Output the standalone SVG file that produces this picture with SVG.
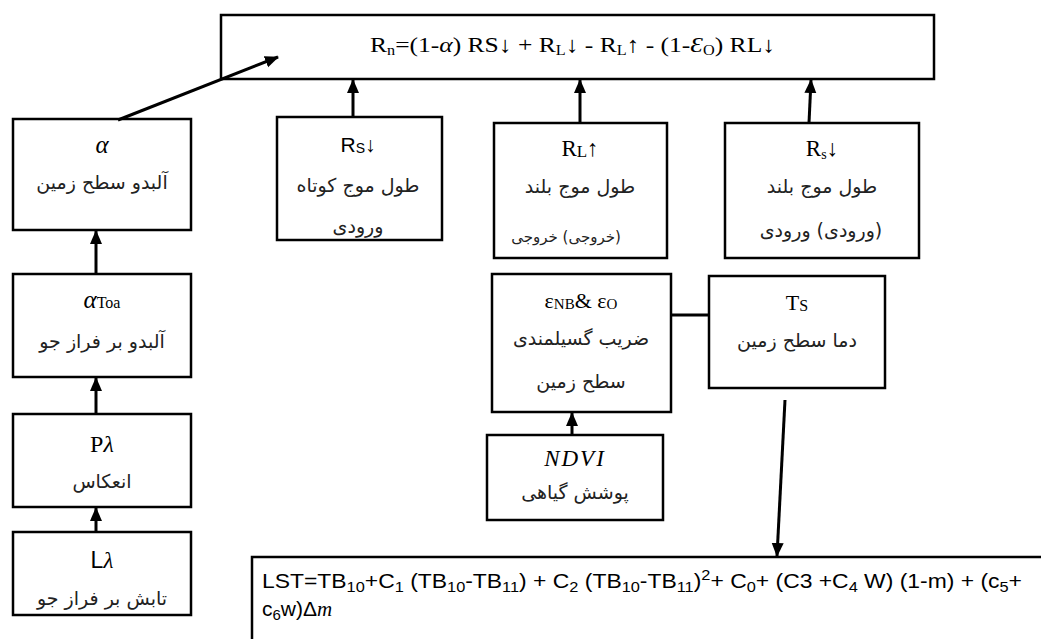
<svg xmlns="http://www.w3.org/2000/svg" width="1041" height="639" viewBox="0 0 1041 639">
<defs>
<style>
.box{fill:#fff;stroke:#000;stroke-width:2.5}
.con{stroke:#000;stroke-width:3;fill:none}
.lat{font-family:"Liberation Serif","DejaVu Serif",serif;font-size:21px;fill:#000;text-anchor:middle}
.fa{font-family:"DejaVu Sans","Noto Sans",sans-serif;font-size:19px;fill:#222;text-anchor:middle}
.sub{font-size:14px}
.cal{font-family:"Liberation Sans","Open Sans",sans-serif;font-size:21px;fill:#000}
.cs{font-size:15px}
</style>
<marker id="ah" markerUnits="userSpaceOnUse" markerWidth="14" markerHeight="14" viewBox="0 0 14 14" refX="13" refY="7" orient="auto">
<path d="M0,1 L14,7 L0,13 Z" fill="#000"/>
</marker>
</defs>
<rect width="1041" height="639" fill="#fff"/>

<g id="rn">
<rect class="box" x="221" y="15" width="713" height="64"/>
<text class="lat" x="370" y="52" style="font-size:22px;text-anchor:start" textLength="405" lengthAdjust="spacingAndGlyphs">R<tspan class="sub" dy="3">n</tspan><tspan dy="-3">=(1-</tspan><tspan font-style="italic">α</tspan>) RS↓ + R<tspan class="sub" dy="3">L</tspan><tspan dy="-3">↓ - R</tspan><tspan class="sub" dy="3">L</tspan><tspan dy="-3">↑ - (1-</tspan><tspan font-style="italic">Ɛ</tspan><tspan class="sub" dy="3">O</tspan><tspan dy="-3">) RL↓</tspan></text>
</g>

<g id="alpha">
<rect class="box" x="13" y="119" width="178" height="111"/>
<text class="lat" x="102" y="153" font-style="italic" style="font-size:25px">α</text>
<text class="fa" x="102" y="189" direction="rtl">آلبدو سطح زمین</text>
</g>

<g id="rs1">
<rect class="box" x="277" y="117" width="165" height="123"/>
<text class="lat" x="358" y="152" style="font-family:'Liberation Sans',sans-serif">R<tspan class="sub" dy="1">S</tspan><tspan dy="-1">↓</tspan></text>
<text class="fa" x="358" y="192" direction="rtl">طول موج کوتاه</text>
<text class="fa" x="358" y="233" direction="rtl">ورودی</text>
</g>

<g id="rl">
<rect class="box" x="494" y="123" width="173" height="135"/>
<text class="lat" x="580" y="156" style="font-size:23px">R<tspan class="sub" style="font-size:17px" dy="1">L</tspan><tspan dy="-1">↑</tspan></text>
<text class="fa" x="580" y="193" direction="rtl">طول موج بلند</text>
<text class="fa" x="566" y="242" style="font-size:15px" direction="rtl">(خروجی) خروجی</text>
</g>

<g id="rs2">
<rect class="box" x="725" y="123" width="194" height="135"/>
<text class="lat" x="822" y="156" style="font-size:23px">R<tspan class="sub" dy="3">s</tspan><tspan dy="-3">↓</tspan></text>
<text class="fa" x="822" y="193" direction="rtl">طول موج بلند</text>
<text class="fa" x="821" y="237" direction="rtl">(ورودی) ورودی</text>
</g>

<g id="atoa">
<rect class="box" x="13" y="274" width="178" height="103"/>
<text class="lat" x="102" y="308"><tspan font-style="italic" style="font-size:25px">α</tspan><tspan class="sub" style="font-size:16px">Toa</tspan></text>
<text class="fa" x="102" y="348" direction="rtl">آلبدو بر فراز جو</text>
</g>

<g id="plambda">
<rect class="box" x="13" y="414" width="178" height="93"/>
<text class="lat" x="102" y="452" style="font-size:24px">P<tspan font-style="italic">λ</tspan></text>
<text class="fa" x="102" y="488" direction="rtl">انعکاس</text>
</g>

<g id="llambda">
<rect class="box" x="13" y="532" width="178" height="83"/>
<text class="lat" x="102" y="568" style="font-size:23px;font-family:'Liberation Sans',sans-serif">L<tspan style="font-family:'Liberation Serif',serif" font-style="italic">λ</tspan></text>
<text class="fa" x="102" y="605" direction="rtl">تابش بر فراز جو</text>
</g>

<g id="eps">
<rect class="box" x="492" y="274" width="179" height="138"/>
<text class="lat" x="581" y="308" style="font-size:22px">ε<tspan class="sub" style="font-size:15px" dy="1">NB</tspan><tspan dy="-1">&amp; ε</tspan><tspan class="sub" style="font-size:15px" dy="1">O</tspan></text>
<text class="fa" x="581" y="345" direction="rtl">ضریب گسیلمندی</text>
<text class="fa" x="581" y="388" direction="rtl">سطح زمین</text>
</g>

<g id="ts">
<rect class="box" x="709" y="276" width="176" height="112"/>
<text class="lat" x="797" y="310" style="font-size:22px">T<tspan class="sub" style="font-size:16px" dy="1">S</tspan></text>
<text class="fa" x="797" y="347" direction="rtl">دما سطح زمین</text>
</g>

<g id="ndvi">
<rect class="box" x="487" y="435" width="176" height="85"/>
<text class="lat" x="575" y="466" font-style="italic" style="font-size:23px" letter-spacing="2">NDVI</text>
<text class="fa" x="575" y="499" direction="rtl">پوشش گیاهی</text>
</g>

<g id="lst">
<path d="M252,639 V557 H1041" class="box" fill="none"/>
<text class="cal" x="262" y="588" textLength="760" lengthAdjust="spacingAndGlyphs">LST=TB<tspan class="cs" dy="4">10</tspan><tspan dy="-4">+C</tspan><tspan class="cs" dy="4">1</tspan><tspan dy="-4"> (TB</tspan><tspan class="cs" dy="4">10</tspan><tspan dy="-4">-TB</tspan><tspan class="cs" dy="4">11</tspan><tspan dy="-4">) + C</tspan><tspan class="cs" dy="4">2</tspan><tspan dy="-4"> (TB</tspan><tspan class="cs" dy="4">10</tspan><tspan dy="-4">-TB</tspan><tspan class="cs" dy="4">11</tspan><tspan dy="-4">)</tspan><tspan class="cs" dy="-8">2</tspan><tspan dy="8">+ C</tspan><tspan class="cs" dy="4">0</tspan><tspan dy="-4">+ (C3 +C</tspan><tspan class="cs" dy="4">4</tspan><tspan dy="-4"> W) (1-m) + (c</tspan><tspan class="cs" dy="4">5</tspan><tspan dy="-4">+</tspan></text>
<text class="cal" x="262" y="616">c<tspan class="cs" dy="4">6</tspan><tspan dy="-4">w)Δ</tspan><tspan style="font-family:'Liberation Serif',serif" font-style="italic">m</tspan></text>
</g>

<g id="connectors">
<line class="con" x1="118" y1="120" x2="278" y2="57" marker-end="url(#ah)"/>
<line class="con" x1="353" y1="117" x2="353" y2="80" marker-end="url(#ah)"/>
<line class="con" x1="580" y1="123" x2="580" y2="80" marker-end="url(#ah)"/>
<line class="con" x1="809" y1="123" x2="811" y2="80" marker-end="url(#ah)"/>
<line class="con" x1="96" y1="274" x2="96" y2="231" marker-end="url(#ah)"/>
<line class="con" x1="96" y1="414" x2="96" y2="378" marker-end="url(#ah)"/>
<line class="con" x1="96" y1="532" x2="96" y2="508" marker-end="url(#ah)"/>
<line class="con" x1="572" y1="436" x2="572" y2="413" marker-end="url(#ah)"/>
<line class="con" x1="671" y1="315" x2="709" y2="315"/>
<line class="con" x1="785" y1="400" x2="777" y2="556" marker-end="url(#ah)"/>
</g>
</svg>
